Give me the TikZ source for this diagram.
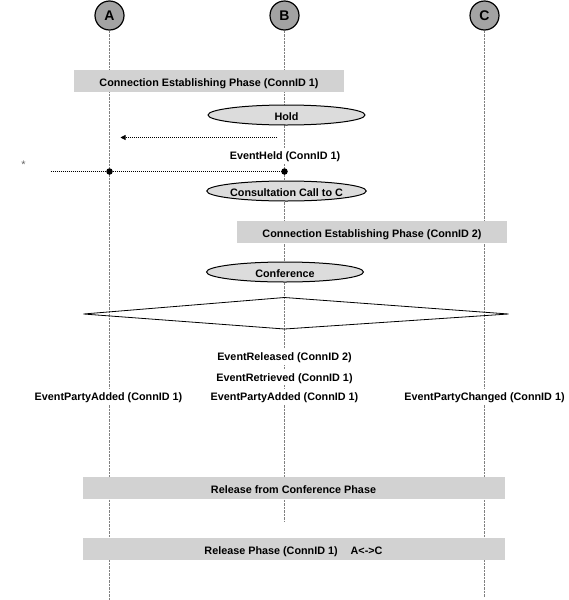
\documentclass[tikz,border=0pt]{standalone}
\usepackage{fontspec}
\setmainfont{Liberation Sans}
\usepackage{tikz}
\usetikzlibrary {positioning,shapes.geometric,arrows.meta}

\definecolor{partygray}{HTML}{A3A3A3}
\definecolor{phasegray}{HTML}{D2D2D2}
\definecolor{callgray}{HTML}{DCDCDC}

\tikzset{
	party/.style={shape=circle,draw=black,line width=1.2pt,fill=partygray,minimum size=29pt,inner sep=0pt,font=\fontsize{14}{14}\selectfont\bfseries},
	lifeline/.style={draw=gray,line width=0.5pt,dash pattern=on 2.5pt off 1pt},
	phase/.style={shape=rectangle,fill=phasegray,inner sep=0pt,minimum height=22pt,text height=11.7pt,text depth=0pt},
	callop/.style={shape=ellipse,draw=black,line width=1pt,fill=callgray,minimum width=157pt,minimum height=20pt,inner sep=0pt,text height=11.2pt,text depth=0pt},
	evt/.style={fill=white,inner sep=1.5pt,text height=10.2pt,text depth=2.5pt},
	dot/.style={shape=circle,fill=black,minimum size=6.5pt,inner sep=0pt},
	msg/.style={line width=0.6pt,dash pattern=on 1pt off 1pt}
}

\begin{document}
\begin{tikzpicture}[x=1pt,y=-1pt,font=\fontsize{10.8}{13}\selectfont\bfseries]
	
	\useasboundingbox (0,0) rectangle (568,600);
	
	\node[party] (A) at (109.5,15.5) {A};
	\node[party] (B) at (284.5,15.5) {B};
	\node[party] (C) at (484.5,15.5) {C};
	
	\coordinate (Aend) at (109.5,600);
	\coordinate (Bend) at (284.5,522);
	\coordinate (Cend) at (484.5,597);
	
	\path [lifeline] (A) -- (Aend);
	\path [lifeline] (B) -- (Bend);
	\path [lifeline] (C) -- (Cend);
	
	
	\node[phase,minimum width=270pt] (est1) at (209,81) {Connection Establishing Phase (ConnID 1)};
	\node[callop] (hold) at (286.5,115) {Hold};
	
	\coordinate (heldS) at (277,137.5);
	\coordinate (heldE) at (120.5,137.5);
	\draw [msg,-{Triangle[length=5pt,width=5pt]}] (heldS) -- (heldE);
	
	\node[evt] (held) at (285,156) {EventHeld (ConnID 1)};
	\node[text=gray!80!black,font=\fontsize{11}{11}\selectfont,inner sep=0pt] (star) at (23.5,165) {*};
	
	\coordinate (lineS) at (50.5,171.5);
	\node[dot] (dA) at (109.5,171.5) {};
	\node[dot] (dB) at (284.5,171.5) {};
	\draw [msg] (lineS) -- (dA) -- (dB);
	
	\node[callop] (consult) at (286.5,191) {Consultation Call to C};
	
	\node[phase,minimum width=270pt] (est2) at (372,231.5) {Connection Establishing Phase (ConnID 2)};
	\node[callop] (conf) at (285,272) {Conference};
	
	\draw [line width=0.8pt] (83.5,314) -- (284.5,297.5) -- (508.5,314) -- (284.5,329) -- cycle;
	
	\node[evt] (rel2) at (284.5,357) {EventReleased (ConnID 2)};
	\node[evt] (ret1) at (284.5,377.5) {EventRetrieved (ConnID 1)};
	\node[evt] (addA) at (108.5,397) {EventPartyAdded (ConnID 1)};
	\node[evt] (addB) at (284.5,397) {EventPartyAdded (ConnID 1)};
	\node[evt] (chgC) at (484.5,397) {EventPartyChanged (ConnID 1)};
	
	\node[phase,minimum width=422pt] (relconf) at (293.5,488) {Release from Conference Phase};
	\node[phase,minimum width=422pt] (rel1) at (293.5,549) {Release Phase (ConnID 1)\hspace{1.2em}A<->C};
	
\end{tikzpicture}
\end{document}
